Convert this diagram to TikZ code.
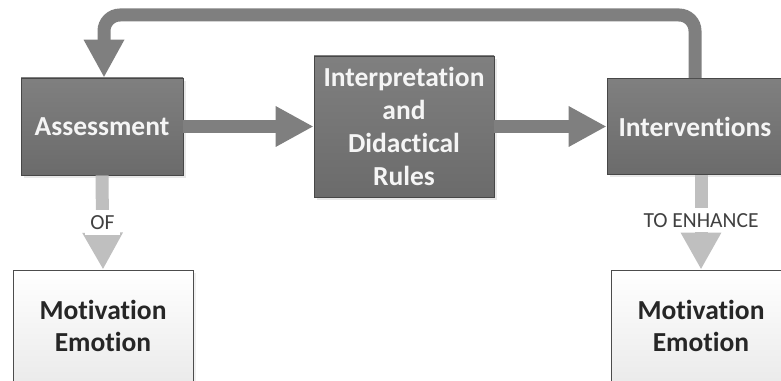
\documentclass[tikz,border=0pt]{standalone}
\usepackage{fontspec}
\setmainfont{Carlito}[RawFeature=-liga]
\usepackage{xcolor}
\usepackage{tikz}
\usetikzlibrary{arrows.meta,shadows}

\definecolor{arrowdark}{HTML}{7F7F7F}
\definecolor{arrowlight}{HTML}{BFBFBF}
\definecolor{labelgray}{HTML}{404040}

\begin{document}
\begin{tikzpicture}[x=1pt, y=1pt,
  darkbox/.style = {draw=black!72, line width=0.8pt, top color=black!50, bottom color=black!58,
    text=black!4, font=\bfseries\fontsize{27.5}{33}\selectfont, align=center,
    drop shadow={shadow xshift=3pt, shadow yshift=-3pt, opacity=0.18}},
  lightbox/.style = {draw=black!70, line width=0.8pt, top color=white, bottom color=black!8,
    text=black!85, font=\bfseries\fontsize{27.5}{32}\selectfont, align=center,
    drop shadow={shadow xshift=3pt, shadow yshift=-3pt, opacity=0.12}},
  thickarrow/.style = {draw=arrowdark, line width=13pt, -{Triangle[width=38pt, length=38pt]}},
  palearrow/.style = {draw=arrowlight, line width=13pt, -{Triangle[width=38pt, length=37pt]}},
  linklabel/.style = {fill=white, inner sep=5pt, text=labelgray, font=\fontsize{21.5}{24}\selectfont}]

  % page size
  \useasboundingbox (0,0) rectangle (781,380);
  \clip (0,0) rectangle (781,380);

  % parameters
  \def\rowy{253.5}   % centre of the top row
  \def\topy{365}     % height of the feedback line
  \def\boty{54}      % centre of the bottom boxes

  % top row
  \node[darkbox, minimum width=162, minimum height=97] (assess) at (102,\rowy) {Assessment};
  \node[darkbox, minimum width=180, minimum height=141] (interp) at (404,\rowy) {Interpretation\\and\\Didactical\\Rules};
  \node[darkbox, minimum width=176, minimum height=96] (interv) at (695,\rowy) {Interventions};

  % bottom boxes (cut by the page edge)
  \node[lightbox, minimum width=180, minimum height=112] (motivl) at (103,\boty) {Motivation\\Emotion};
  \node[lightbox, minimum width=180, minimum height=112] (motivr) at (701,\boty) {Motivation\\Emotion};

  % main flow
  \draw[thickarrow] (assess) -- (interp);
  \draw[thickarrow] (interp) -- (interv);

  % feedback loop
  \coordinate (turn) at (104,\topy);
  \draw[thickarrow, rounded corners=16pt] (interv.north) |- (turn) -- (assess.north -| turn);

  % down links
  \draw[palearrow] (assess.south) -- node[linklabel] (oflabel) {OF} (motivl.north);
  \draw[palearrow] (interv.south -| motivr) -- node[linklabel, pos=0.48] (tolabel) {TO ENHANCE} (motivr.north);
\end{tikzpicture}
\end{document}
